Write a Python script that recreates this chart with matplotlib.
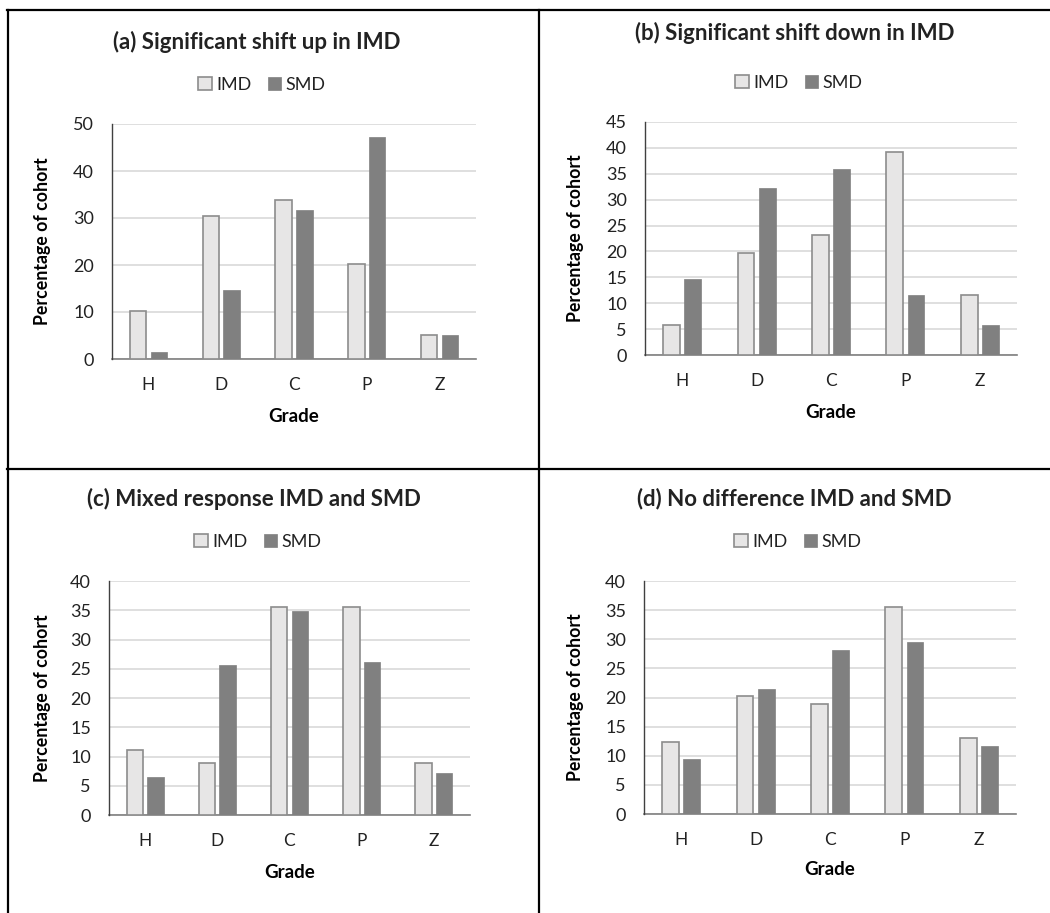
import matplotlib
matplotlib.use("Agg")
import matplotlib.pyplot as plt
from matplotlib.lines import Line2D
import numpy as np

# grade categories shared by every panel
GRADES = ["H", "D", "C", "P", "Z"]

TITLES = [
    "(a) Significant shift up in IMD",
    "(b) Significant shift down in IMD",
    "(c) Mixed response IMD and SMD",
    "(d) No difference IMD and SMD",
]

# percentage of cohort per grade
IMD_A = [10.2, 30.5, 33.9, 20.3, 5.2]
SMD_A = [1.4, 14.6, 31.8, 47.3, 5.2]
IMD_B = [5.8, 19.7, 23.2, 39.3, 11.6]
SMD_B = [14.6, 32.3, 35.9, 11.5, 5.8]
IMD_C = [11.1, 8.9, 35.6, 35.6, 8.9]
SMD_C = [6.5, 25.7, 34.9, 26.1, 7.1]
IMD_D = [12.3, 20.2, 18.9, 35.5, 13.0]
SMD_D = [9.5, 21.5, 28.1, 29.5, 11.6]

YMAX = [50, 45, 40, 40]
YSTEP = [10, 5, 5, 5]

IMD_FILL = "#e7e6e6"
IMD_EDGE = "#8c8c8c"
SMD_FILL = "#808080"
GRID = "#d9d9d9"
TEXT = "#222222"

W, H = 1050, 913
plt.rcParams.update({
    "font.family": ["Lato", "DejaVu Sans"],
    "text.color": TEXT,
    "xtick.color": TEXT, "ytick.color": TEXT,
})

fig = plt.figure(figsize=(W / 100, H / 100), dpi=100)

# axes boxes in pixels: left, right, top, bottom
BOXES = [
    (112, 476, 124, 359),
    (645, 1017, 122, 355),
    (109, 470, 581, 815),
    (644, 1016, 581, 814),
]
TITLE_POS = [(257, 42), (795, 33), (254, 499), (794, 499)]
LEG_POS = [(262, 85), (799, 83), (258, 542), (798, 542)]
YLAB_X = [43, 575, 42, 575]
XLAB_Y = [417, 412, 872, 869]

series = [(IMD_A, SMD_A), (IMD_B, SMD_B), (IMD_C, SMD_C), (IMD_D, SMD_D)]
x = np.arange(len(GRADES))
bw = 0.226
off = 0.143

for i, (imd, smd) in enumerate(series):
    l, r, t, b = BOXES[i]
    ax = fig.add_axes([l / W, 1 - b / H, (r - l) / W, (b - t) / H])
    ax.bar(x - off, imd, width=bw, color=IMD_FILL, edgecolor=IMD_EDGE,
           linewidth=1.2, zorder=3, label="IMD")
    ax.bar(x + off, smd, width=bw, color=SMD_FILL, edgecolor=SMD_FILL,
           linewidth=0.5, zorder=3, label="SMD")
    ax.set_xlim(-0.5, len(GRADES) - 0.5)
    ax.set_ylim(0, YMAX[i])
    ax.set_yticks(np.arange(0, YMAX[i] + 1, YSTEP[i]))
    ax.set_xticks(x)
    ax.set_xticklabels(GRADES)
    ax.tick_params(axis="x", length=0, pad=13, labelsize=12.5)
    ax.tick_params(axis="y", length=0, pad=13, labelsize=13)
    ax.grid(axis="y", color=GRID, lw=1.2, zorder=0)
    for s in ("top", "right"):
        ax.spines[s].set_visible(False)
    ax.spines["left"].set_color("#404040")
    ax.spines["bottom"].set_color("#7f7f7f")
    ax.spines["left"].set_linewidth(1.0)
    ax.spines["bottom"].set_linewidth(1.2)
    ax.spines["left"].set_zorder(4)

    ax.set_ylabel("Percentage of cohort", fontsize=12.8, fontweight="bold")
    ax.yaxis.label.set_va("center")
    ax.yaxis.set_label_coords((YLAB_X[i] - l) / (r - l), 0.5)
    ax.set_xlabel("Grade", fontsize=13.5, fontweight="bold")
    ax.xaxis.label.set_va("center")
    ax.xaxis.set_label_coords(0.5, -(XLAB_Y[i] - b) / (b - t))

    tx, ty = TITLE_POS[i]
    fig.text(tx / W, 1 - ty / H, TITLES[i], ha="center", va="center",
             fontsize=16, fontweight="bold")
    lx, ly = LEG_POS[i]
    fig.legend(*ax.get_legend_handles_labels(), loc="center",
               bbox_to_anchor=(lx / W, 1 - ly / H), ncol=2, frameon=False,
               fontsize=13, handlelength=0.75, handleheight=0.75,
               handletextpad=0.25, columnspacing=0.9, borderaxespad=0)

# table borders around the four panels
def hline(y, x0, x1):
    fig.add_artist(Line2D([x0 / W, x1 / W], [1 - y / H, 1 - y / H],
                          color="black", lw=1.6))

def vline(xp, y0, y1):
    fig.add_artist(Line2D([xp / W, xp / W], [1 - y0 / H, 1 - y1 / H],
                          color="black", lw=1.6))

hline(10, 7, W)
hline(469, 7, W)
vline(8, 10, H)
vline(539, 10, H)

fig.savefig("out.png", dpi=100, facecolor="white")
